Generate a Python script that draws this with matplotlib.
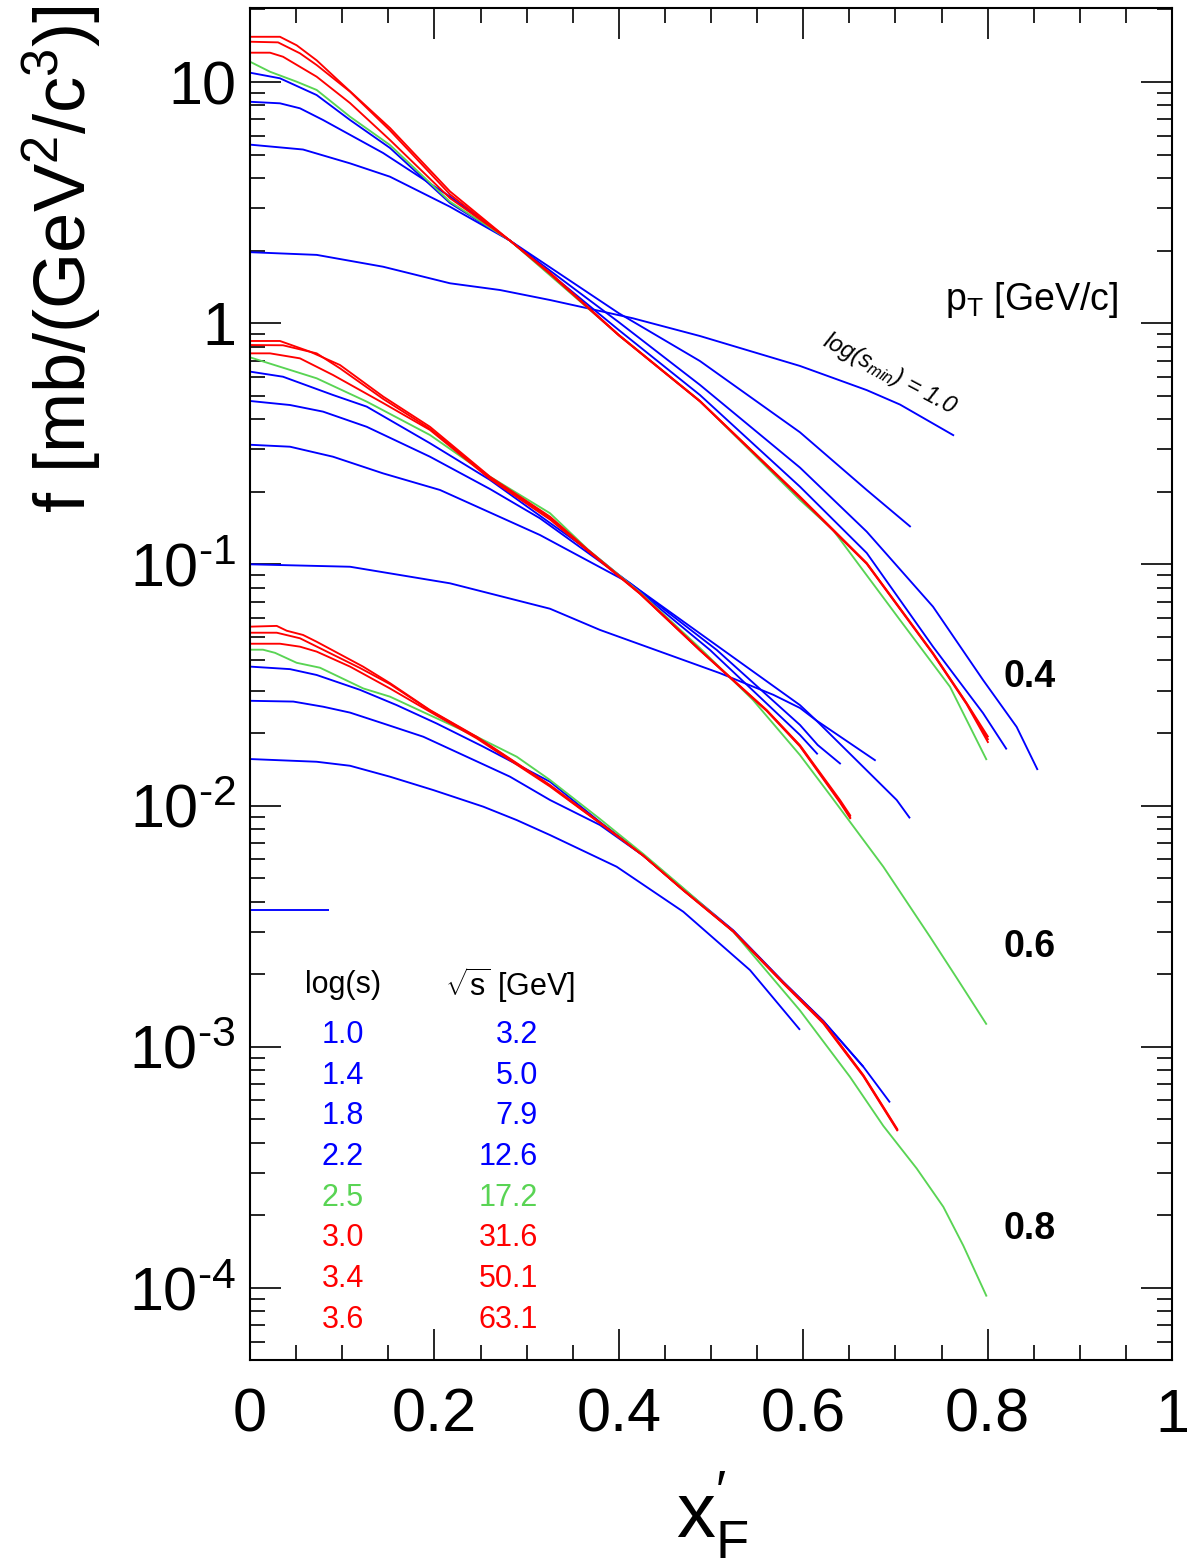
import matplotlib
matplotlib.use('Agg')
import matplotlib.pyplot as plt
from matplotlib.ticker import FixedLocator, LogLocator, NullFormatter, MultipleLocator

plt.rcParams['font.family'] = ['Liberation Sans', 'DejaVu Sans']
plt.rcParams['mathtext.fontset'] = 'custom'
plt.rcParams['mathtext.rm'] = 'Liberation Sans'
plt.rcParams['mathtext.it'] = 'Liberation Sans:italic'
plt.rcParams['mathtext.bf'] = 'Liberation Sans:bold'
plt.rcParams['mathtext.default'] = 'regular'

BLUE = '#0000ff'
GREEN = '#59d454'
RED = '#ff0000'

# ---------------- legend table ----------------
log_s_labels = ['1.0', '1.4', '1.8', '2.2', '2.5', '3.0', '3.4', '3.6']
sqrt_s_labels = ['3.2', '5.0', '7.9', '12.6', '17.2', '31.6', '50.1', '63.1']
series_colors = [BLUE, BLUE, BLUE, BLUE, GREEN, RED, RED, RED]
pt_labels = ['0.4', '0.6', '0.8']

# ---------------- pT = 0.4 GeV/c ----------------
x_p04_s10 = [0.0, 0.0723, 0.1443, 0.2169, 0.2711, 0.3254, 0.4154, 0.488, 0.5965, 0.6689, 0.705, 0.7636]
f_p04_s10 = [1.97, 1.92, 1.715, 1.464, 1.373, 1.248, 1.048, 0.885, 0.665, 0.528, 0.46, 0.342]
x_p04_s14 = [0.0, 0.0575, 0.1085, 0.1518, 0.2169, 0.282, 0.4, 0.488, 0.5965, 0.6689, 0.7166]
f_p04_s14 = [5.5, 5.25, 4.6, 4.05, 3.04, 2.2, 1.10, 0.697, 0.353, 0.2035, 0.143]
x_p04_s18 = [0.0, 0.0325, 0.0542, 0.0792, 0.1443, 0.2169, 0.282, 0.4, 0.488, 0.5965, 0.6689, 0.7408, 0.795, 0.8315, 0.8543]
f_p04_s18 = [8.28, 8.16, 7.78, 6.96, 5.08, 3.35, 2.2, 1.01, 0.555, 0.252, 0.1367, 0.0668, 0.0332, 0.0212, 0.01405]
x_p04_s22 = [0.0, 0.0325, 0.0723, 0.1085, 0.1518, 0.2169, 0.282, 0.4, 0.488, 0.5965, 0.6689, 0.7408, 0.795, 0.8207]
f_p04_s22 = [10.93, 10.36, 8.83, 6.96, 5.33, 3.15, 2.2, 0.937, 0.504, 0.21, 0.1115, 0.0456, 0.0242, 0.0171]
x_p04_s25 = [0.0, 0.0217, 0.0506, 0.0723, 0.1085, 0.1518, 0.2169, 0.282, 0.4, 0.488, 0.5965, 0.6323, 0.705, 0.7592, 0.799]
f_p04_s25 = [12.14, 11.03, 10.03, 9.27, 7.18, 5.48, 3.19, 2.2, 0.894, 0.476, 0.185, 0.139, 0.0588, 0.0311, 0.01545]
x_p04_s30 = [0.0, 0.0217, 0.0358, 0.0723, 0.1085, 0.1518, 0.2169, 0.282, 0.3254, 0.4, 0.488, 0.5965, 0.6689, 0.7408, 0.7773, 0.8008]
f_p04_s30 = [13.23, 13.23, 12.73, 10.52, 8.18, 5.75, 3.30, 2.2, 1.6, 0.89, 0.474, 0.189, 0.1005, 0.0425, 0.0263, 0.0182]
x_p04_s34 = [0.0, 0.0304, 0.0542, 0.0723, 0.1085, 0.1518, 0.2169, 0.282, 0.3254, 0.4, 0.488, 0.5965, 0.6689, 0.7408, 0.7773, 0.8008]
f_p04_s34 = [14.69, 14.6, 13.15, 11.76, 9.12, 6.3, 3.42, 2.2, 1.61, 0.892, 0.475, 0.19, 0.101, 0.0427, 0.0265, 0.0187]
x_p04_s36 = [0.0, 0.0325, 0.0506, 0.0723, 0.0976, 0.1518, 0.2169, 0.282, 0.3254, 0.4, 0.488, 0.5965, 0.6689, 0.7408, 0.7773, 0.8008]
f_p04_s36 = [15.4, 15.4, 14.2, 12.3, 10.0, 6.45, 3.52, 2.2, 1.62, 0.894, 0.476, 0.191, 0.1013, 0.0429, 0.0266, 0.0192]

# ---------------- pT = 0.6 GeV/c ----------------
x_p06_s10 = [0.0, 0.1085, 0.2169, 0.3254, 0.3796, 0.5098, 0.5676, 0.5965, 0.6139, 0.6786]
f_p06_s10 = [0.1001, 0.0978, 0.0835, 0.0655, 0.0535, 0.0354, 0.0288, 0.0254, 0.0226, 0.01536]
x_p06_s14 = [0.0, 0.0434, 0.09, 0.1443, 0.2061, 0.3145, 0.4121, 0.513, 0.5965, 0.6139, 0.7014, 0.7158]
f_p06_s14 = [0.3134, 0.3076, 0.2796, 0.2385, 0.2035, 0.1324, 0.0835, 0.0442, 0.0261, 0.0226, 0.01055, 0.00886]
x_p06_s18 = [0.0, 0.0434, 0.0792, 0.1266, 0.1952, 0.2603, 0.3145, 0.4121, 0.5062, 0.5965, 0.6157, 0.6407]
f_p06_s18 = [0.476, 0.458, 0.43, 0.372, 0.2796, 0.2054, 0.1553, 0.0837, 0.0442, 0.0216, 0.01784, 0.01487]
x_p06_s22 = [0.0, 0.0358, 0.09, 0.1266, 0.1952, 0.2603, 0.3254, 0.3666, 0.423, 0.4989, 0.5965, 0.6157]
f_p06_s22 = [0.63, 0.60, 0.504, 0.451, 0.318, 0.224, 0.1485, 0.1148, 0.0768, 0.0442, 0.01963, 0.01632]
x_p06_s25 = [0.0, 0.0723, 0.1266, 0.1952, 0.2603, 0.3254, 0.3666, 0.423, 0.488, 0.5456, 0.5965, 0.6291, 0.6869, 0.7375, 0.7665, 0.799]
f_p06_s25 = [0.722, 0.591, 0.473, 0.344, 0.231, 0.163, 0.1152, 0.0765, 0.045, 0.0274, 0.0162, 0.01107, 0.00558, 0.00286, 0.00193, 0.001236]
x_p06_s30 = [0.0, 0.0217, 0.0542, 0.09, 0.1443, 0.1952, 0.2603, 0.3254, 0.3666, 0.423, 0.488, 0.5604, 0.5965, 0.6399, 0.6515]
f_p06_s30 = [0.75, 0.75, 0.715, 0.61, 0.467, 0.361, 0.226, 0.1535, 0.1135, 0.0755, 0.044, 0.0247, 0.0176, 0.0103, 0.0088]
x_p06_s34 = [0.0, 0.0358, 0.0723, 0.0976, 0.1446, 0.1952, 0.2603, 0.3254, 0.3666, 0.423, 0.488, 0.5604, 0.5965, 0.6399, 0.6515]
f_p06_s34 = [0.812, 0.81, 0.75, 0.65, 0.485, 0.365, 0.229, 0.156, 0.1145, 0.0757, 0.0441, 0.0248, 0.0177, 0.0104, 0.0089]
x_p06_s36 = [0.0, 0.0325, 0.0651, 0.0976, 0.1446, 0.1952, 0.2603, 0.3254, 0.3666, 0.423, 0.488, 0.5604, 0.5965, 0.6399, 0.6515]
f_p06_s36 = [0.844, 0.844, 0.762, 0.671, 0.496, 0.372, 0.231, 0.1577, 0.1148, 0.0759, 0.0442, 0.0249, 0.0178, 0.01055, 0.00905]

# ---------------- pT = 0.8 GeV/c ----------------
x_p08_s10 = [0.0, 0.086]
f_p08_s10 = [0.00368, 0.00368]
x_p08_s14 = [0.0, 0.0723, 0.1085, 0.1518, 0.1988, 0.253, 0.2893, 0.3254, 0.3977, 0.47, 0.5423, 0.5965]
f_p08_s14 = [0.0156, 0.0152, 0.01463, 0.01318, 0.0116, 0.0099, 0.00871, 0.00755, 0.00558, 0.00363, 0.00208, 0.001176]
x_p08_s18 = [0.0, 0.047, 0.0795, 0.1085, 0.1446, 0.188, 0.235, 0.282, 0.3254, 0.3796, 0.4266, 0.47, 0.5242, 0.5784, 0.6218, 0.6652, 0.6941]
f_p08_s18 = [0.0272, 0.027, 0.0257, 0.0243, 0.0219, 0.0193, 0.01595, 0.01318, 0.01055, 0.00831, 0.0062, 0.00447, 0.00302, 0.00185, 0.00128, 0.000827, 0.000588]
x_p08_s22 = [0.0, 0.0434, 0.0723, 0.1193, 0.1591, 0.2025, 0.253, 0.3254, 0.3796, 0.4266, 0.47, 0.5242, 0.5784, 0.6218, 0.6652]
f_p08_s22 = [0.0377, 0.0368, 0.0348, 0.0302, 0.0261, 0.0219, 0.01755, 0.01256, 0.00855, 0.00625, 0.00452, 0.00304, 0.00186, 0.00128, 0.000827]
x_p08_s25 = [0.0, 0.0141, 0.0271, 0.0506, 0.0759, 0.1229, 0.1518, 0.1952, 0.2459, 0.2893, 0.3254, 0.3796, 0.4266, 0.47, 0.5242, 0.5965, 0.6508, 0.6869, 0.7231, 0.752, 0.7736, 0.799]
f_p08_s25 = [0.0443, 0.0443, 0.043, 0.0391, 0.0373, 0.0306, 0.0283, 0.0237, 0.0193, 0.01595, 0.01277, 0.0088, 0.0063, 0.00455, 0.003, 0.001415, 0.00075, 0.00047, 0.000313, 0.000217, 0.00015, 0.0000922]
x_p08_s30 = [0.0, 0.0325, 0.0542, 0.0723, 0.1085, 0.1518, 0.1952, 0.2459, 0.3254, 0.3796, 0.4266, 0.47, 0.5242, 0.5784, 0.6218, 0.6652, 0.7025]
f_p08_s30 = [0.0469, 0.0469, 0.0456, 0.0435, 0.0377, 0.0306, 0.0245, 0.019, 0.0120, 0.00845, 0.0062, 0.00445, 0.003, 0.00183, 0.00125, 0.000755, 0.000447]
x_p08_s34 = [0.0, 0.029, 0.0542, 0.1193, 0.1518, 0.1952, 0.2459, 0.3254, 0.3796, 0.4266, 0.47, 0.5242, 0.5784, 0.6218, 0.6652, 0.7025]
f_p08_s34 = [0.0521, 0.0521, 0.0494, 0.0372, 0.0319, 0.0248, 0.0192, 0.0121, 0.00848, 0.0062, 0.00446, 0.00301, 0.00184, 0.00126, 0.00076, 0.00045]
x_p08_s36 = [0.0, 0.029, 0.0398, 0.0575, 0.0723, 0.1226, 0.1518, 0.1952, 0.2459, 0.3254, 0.3796, 0.4266, 0.47, 0.5242, 0.5784, 0.6218, 0.6652, 0.7025]
f_p08_s36 = [0.0552, 0.0556, 0.0531, 0.051, 0.0478, 0.0377, 0.0322, 0.0249, 0.0193, 0.01217, 0.0085, 0.0062, 0.00447, 0.00302, 0.00185, 0.00127, 0.000764, 0.000453]

curves = [
    (x_p04_s10, f_p04_s10, BLUE), (x_p04_s14, f_p04_s14, BLUE), (x_p04_s18, f_p04_s18, BLUE),
    (x_p04_s22, f_p04_s22, BLUE), (x_p04_s25, f_p04_s25, GREEN), (x_p04_s30, f_p04_s30, RED),
    (x_p04_s34, f_p04_s34, RED), (x_p04_s36, f_p04_s36, RED),
    (x_p06_s10, f_p06_s10, BLUE), (x_p06_s14, f_p06_s14, BLUE), (x_p06_s18, f_p06_s18, BLUE),
    (x_p06_s22, f_p06_s22, BLUE), (x_p06_s25, f_p06_s25, GREEN), (x_p06_s30, f_p06_s30, RED),
    (x_p06_s34, f_p06_s34, RED), (x_p06_s36, f_p06_s36, RED),
    (x_p08_s10, f_p08_s10, BLUE), (x_p08_s14, f_p08_s14, BLUE), (x_p08_s18, f_p08_s18, BLUE),
    (x_p08_s22, f_p08_s22, BLUE), (x_p08_s25, f_p08_s25, GREEN), (x_p08_s30, f_p08_s30, RED),
    (x_p08_s34, f_p08_s34, RED), (x_p08_s36, f_p08_s36, RED),
]

W, H = 1189, 1562
fig = plt.figure(figsize=(W / 100, H / 100), dpi=100)
L, R, T, B = 250, 1172, 8, 1360
ax = fig.add_axes([L / W, 1 - B / H, (R - L) / W, (B - T) / H])

for xs, fs, c in curves:
    ax.plot(xs, fs, color=c, lw=1.35, solid_joinstyle='round', solid_capstyle='butt')

ax.set_yscale('log')
ax.set_xlim(0, 1)
ax.set_ylim(5.03e-5, 20.27)

ax.xaxis.set_major_locator(FixedLocator([0, 0.2, 0.4, 0.6, 0.8, 1.0]))
ax.set_xticklabels(['0', '0.2', '0.4', '0.6', '0.8', '1'])
ax.xaxis.set_minor_locator(MultipleLocator(0.05))

ax.yaxis.set_major_locator(FixedLocator([1e-4, 1e-3, 1e-2, 1e-1, 1, 10]))
ax.set_yticklabels([r'$10^{\text{-4}}$', r'$10^{\text{-3}}$', r'$10^{\text{-2}}$',
                    r'$10^{\text{-1}}$', '1', '10'])
ax.yaxis.set_minor_locator(LogLocator(base=10, subs=[2, 3, 4, 5, 6, 7, 8, 9], numticks=30))
ax.yaxis.set_minor_formatter(NullFormatter())

ax.tick_params(which='both', direction='in', top=True, right=True, width=1.2, colors='black')
ax.tick_params(which='major', length=22)
ax.tick_params(which='minor', length=11)
ax.tick_params(axis='x', which='major', labelsize=44, pad=20)
ax.tick_params(axis='y', which='major', labelsize=44, pad=10)
for sp in ax.spines.values():
    sp.set_linewidth(1.5)

def fx(px):
    return px / W

def fy(py):
    return 1 - py / H

# axis titles
fig.text(fx(62), fy(5), r'f [mb/(GeV$^{2}$/c$^{3}$)]', rotation=90, ha='center', va='top', fontsize=52)
fig.text(fx(712), fy(1515), r"$x^{\prime}_{F}$", ha='center', va='center', fontsize=56)

# pT annotations
fig.text(fx(1032), fy(300), r'p$_{T}$ [GeV/c]', ha='center', va='center', fontsize=27)
for lab, py in zip(pt_labels, [677, 947, 1229]):
    fig.text(fx(1030), fy(py), lab, ha='center', va='center', fontsize=27, fontweight='bold')

fig.text(fx(890), fy(374), r'log(s$_{min}$) = 1.0', rotation=-28, ha='center', va='center',
         fontsize=17, fontstyle='italic', rotation_mode='anchor')

# legend table
fig.text(fx(343), fy(985), 'log(s)', ha='center', va='center', fontsize=22)
fig.text(fx(510), fy(985), r'$\sqrt{s}$ [GeV]', ha='center', va='center', fontsize=22)
row_y = [1035, 1076, 1116, 1157, 1198, 1238, 1279, 1320]
for ls, ss, c, py in zip(log_s_labels, sqrt_s_labels, series_colors, row_y):
    fig.text(fx(343), fy(py), ls, ha='center', va='center', fontsize=22, color=c)
    fig.text(fx(538), fy(py), ss, ha='right', va='center', fontsize=22, color=c)

fig.savefig('out.png', dpi=100, facecolor='white')
